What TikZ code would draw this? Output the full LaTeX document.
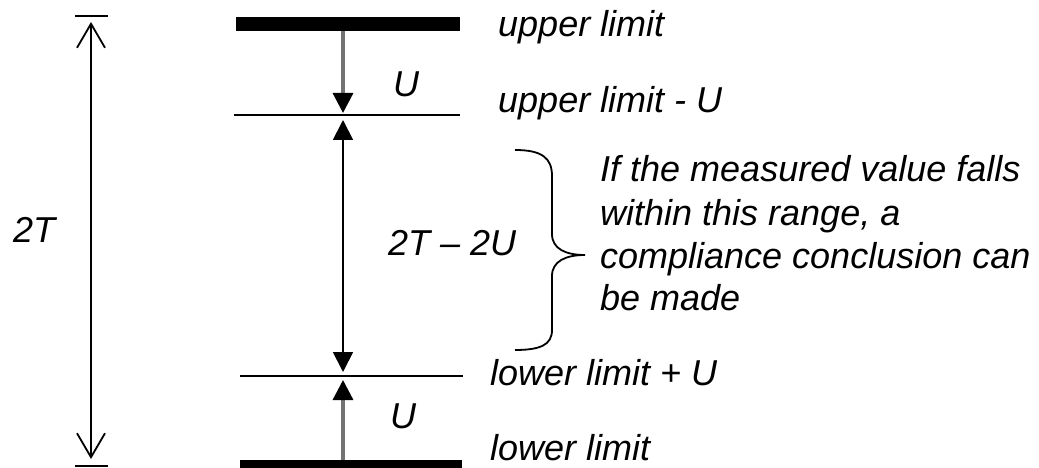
\documentclass[tikz,border=0pt]{standalone}
\usepackage{fontspec}
\setmainfont{Liberation Sans}
\usetikzlibrary{arrows.meta}
\begin{document}
\begin{tikzpicture}[x=1pt,y=-1pt,
  lbl/.style={font=\fontsize{36}{43}\selectfont\itshape, inner sep=0pt, anchor=base west},
  bar/.style={line width=14pt},
  refline/.style={line width=1.8pt},
  tri/.style={-{Triangle[length=20pt,width=20pt,color=black]}},
  dtri/.style={{Triangle[length=20pt,width=20pt,color=black]}-{Triangle[length=20pt,width=20pt,color=black]}},
  shaft/.style={draw=black!55, line width=3.2pt},
  barb/.style={{Straight Barb[length=24pt,width=28pt]}-{Straight Barb[length=24pt,width=28pt]}},
  tick/.style={line width=2pt}
]
\useasboundingbox (0,0) rectangle (1039,468);

% bars and reference lines
\coordinate (ubL) at (236,24);  \coordinate (ubR) at (460,24);
\coordinate (umL) at (234,115); \coordinate (umR) at (460,115);
\coordinate (lmL) at (240,376); \coordinate (lmR) at (463,376);
\coordinate (lbL) at (240,467); \coordinate (lbR) at (462,467);
\draw[bar] (ubL) -- (ubR);
\draw[refline] (umL) -- (umR);
\draw[refline] (lmL) -- (lmR);
\draw[bar] (lbL) -- (lbR);

% vertical arrows
\coordinate (a1s) at (343,31);  \coordinate (a1e) at (343,113);
\coordinate (a2s) at (343,120); \coordinate (a2e) at (343,372);
\coordinate (a3s) at (343,460); \coordinate (a3e) at (343,380);
\draw[shaft,tri] (a1s) -- (a1e);
\draw[refline,dtri] (a2s) -- (a2e);
\draw[shaft,tri] (a3s) -- (a3e);

% left 2T arrow
\coordinate (tTL) at (75,16);  \coordinate (tTR) at (108,16);
\coordinate (tBL) at (75,466); \coordinate (tBR) at (108,466);
\coordinate (tA) at (91,22);   \coordinate (tB) at (91,459);
\draw[tick] (tTL) -- (tTR);
\draw[tick] (tBL) -- (tBR);
\draw[line width=1.8pt,barb] (tA) -- (tB);

% brace
\coordinate (brT) at (515,150);
\coordinate (brTip) at (585,255);
\coordinate (brB) at (515,350);
\draw[line width=1.8pt] (brT) .. controls (542,150) and (552,158) .. (552,176)
  -- (552,234) .. controls (552,249) and (566,255) .. (brTip)
  .. controls (566,255) and (552,261) .. (552,276)
  -- (552,330) .. controls (552,345) and (540,350) .. (brB);

% labels
\node[lbl] (ul)  at (498,37)  {upper limit};
\node[lbl] (ulu) at (498,113) {upper limit - U};
\node[lbl] (llu) at (490,385) {lower limit + U};
\node[lbl] (ll)  at (490,460) {lower limit};
\node[lbl] (u1)  at (393,97)  {U};
\node[lbl] (u2)  at (390,428) {U};
\node[lbl] (tt)  at (13,242)  {2T};
\node[lbl] (tu)  at (388,255) {2T – 2U};
\node[lbl] (c1)  at (600,182) {If the measured value falls};
\node[lbl] (c2)  at (600,225) {within this range, a};
\node[lbl] (c3)  at (600,268) {compliance conclusion can};
\node[lbl] (c4)  at (600,310) {be made};
\end{tikzpicture}
\end{document}
